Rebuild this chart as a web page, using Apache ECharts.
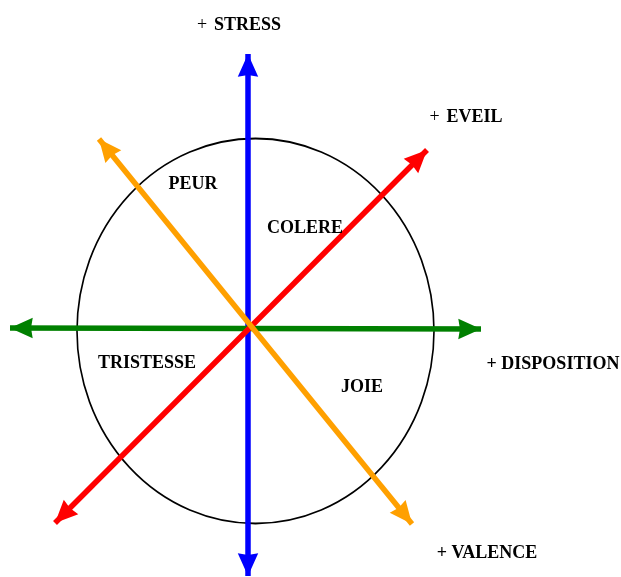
<!DOCTYPE html>
<html>
<head>
<meta charset="utf-8">
<script src="https://cdn.jsdelivr.net/npm/echarts@6/dist/echarts.min.js"></script>
<style>html,body{margin:0;padding:0;background:#fff}#c{width:621px;height:577px}</style>
</head>
<body>
<div id="c"></div>
<script>
// Axis segments (start point, end point) in chart units
var axisNames = ['STRESS', 'DISPOSITION', 'EVEIL', 'VALENCE'];
var axisColors = ['#0000ff', '#008000', '#ff0000', '#ffa000'];
var axisFrom = [[248, 576], [10, 328], [55, 523], [99, 139]];
var axisTo = [[248, 54], [481, 329], [427, 150], [412, 524]];

// Emotion circle (center and diameters)
var circleCenter = [255.5, 331];
var circleSize = [357, 385];

// Axis end labels
var poleLabels = ['{p|+}  {b|STRESS}', '{b|+ DISPOSITION}', '{p|+}  {b|EVEIL}', '{b|+ VALENCE}'];
var polePos = [[239, 25], [553, 364], [466, 117], [487, 553]];

// Emotion labels
var emotions = ['PEUR', 'COLERE', 'TRISTESSE', 'JOIE'];
var emotionPos = [[193, 184], [305, 228], [147, 363], [362, 387]];

var font = '"Liberation Serif", "Times New Roman", serif';
var chart = echarts.init(document.getElementById('c'), null, {renderer: 'canvas'});

// arrow head whose tip sits at the centre of a square symbol box
var arrowPath = 'path://M0,0 L0.01,0 M44,44 L43.99,44 M22,22 L31,42 L22,40.5 L13,42 Z';

var linesData = axisNames.map(function (n, i) {
  return {
    name: n,
    coords: [axisFrom[i], axisTo[i]],
    lineStyle: {color: axisColors[i]}
  };
});

var richStyles = {
  p: {fontFamily: font, fontSize: 18, fontWeight: 'normal', color: '#000'},
  b: {fontFamily: font, fontSize: 18, fontWeight: 'bold', color: '#000'}
};

chart.setOption({
  animation: false,
  backgroundColor: '#fff',
  grid: {left: 0, right: 0, top: 0, bottom: 0},
  xAxis: {type: 'value', min: 0, max: 621, show: false},
  yAxis: {type: 'value', min: 0, max: 577, inverse: true, show: false},
  series: [
    {
      type: 'scatter',
      z: 1,
      silent: true,
      symbol: 'circle',
      symbolSize: circleSize,
      itemStyle: {color: 'rgba(0,0,0,0)', borderColor: '#000', borderWidth: 1.7, opacity: 1},
      data: [circleCenter]
    },
    {
      type: 'lines',
      coordinateSystem: 'cartesian2d',
      z: 2,
      silent: true,
      symbol: [arrowPath, arrowPath],
      symbolSize: 50,
      lineStyle: {width: 5.5, opacity: 1, curveness: 0},
      data: linesData
    },
    {
      type: 'scatter',
      z: 3,
      silent: true,
      symbolSize: 0,
      itemStyle: {opacity: 1},
      label: {
        show: true,
        position: 'inside',
        color: '#000',
        formatter: function (p) { return p.data.t; },
        rich: richStyles
      },
      data: poleLabels.map(function (t, i) { return {value: polePos[i], t: t}; })
    },
    {
      type: 'scatter',
      z: 3,
      silent: true,
      symbolSize: 0,
      itemStyle: {opacity: 1},
      label: {
        show: true,
        position: 'inside',
        formatter: function (p) { return p.data.t; },
        fontFamily: font,
        fontSize: 18,
        fontWeight: 'bold',
        color: '#000'
      },
      data: emotions.map(function (t, i) { return {value: emotionPos[i], t: t}; })
    }
  ]
});
</script>
</body>
</html>
